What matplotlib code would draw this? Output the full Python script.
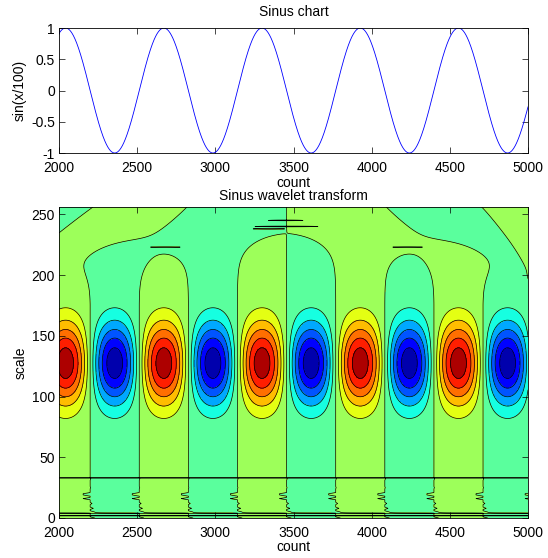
import numpy as np
import matplotlib
matplotlib.use('Agg')
import matplotlib.pyplot as plt

plt.rcParams['font.family'] = ['Liberation Sans', 'DejaVu Sans']
plt.rcParams['font.size'] = 10

# signal as written on the y label: sin(x/100) for x = 2000..5000
count = np.arange(2000, 5001)
signal = np.sin(count / 100.0)

x_ticks = [2000, 2500, 3000, 3500, 4000, 4500, 5000]
sin_ticks = [-1, -0.5, 0, 0.5, 1]
sin_labels = ['-1', '-0.5', '0', '0.5', '1']
scale_ticks = [0, 50, 100, 150, 200, 250]

# wavelet map
scales = np.arange(0, 257)
peak_scale = 127.5        # centre of the red / blue cells
peak_width = 24.4         # yellow edge near 82 and 173
n_bands = 12              # filled colour bands (jet)
top_level = 1.05          # peak cell value is ~0.95 of the top level

# large scale pattern (edge effects): phase lines fanning out from x=3456
cone_centre = 3456
cone_k = 51359.0
cone_s0 = 175.5
rise_centre = 225.0       # scale where it takes over, at the centre line
rise_slope = 0.011        # ... and lower towards the sides
rise_width = 9.0
# corner patches at the top: (x, scale) end points of their edges
corner_left = [(2000, 235), (2186, 256)]    # negative patch
corner_right = [(4725, 256), (5000, 206)]   # positive patch

# small scale artefacts: shift of the strip edges (in counts) per scale row
shift_rows = [0, 5, 8, 12, 14, 16, 17, 18, 19, 20, 21, 25, 32]
shift_vals = [-30, -28, -20, -12, 0, 45, 0, 0, 45, 45, 0, -3, -3]
flip_rows = [33, 4, 2]        # rows that come out as thin streaks
flip_gain = [-0.02, -0.3, -0.3]
# short streaks at large scales: (scale, from count, to count)
streaks = [(223, 2560, 2800), (223, 4110, 4350),
           (245, 3310, 3590), (240, 3200, 3710), (238, 3215, 3470)]

S, X = np.meshgrid(scales, count, indexing='ij')
envelope = np.exp(-(scales - peak_scale) ** 2 / (2 * peak_width ** 2))
shift = np.zeros(len(scales))
for r, v in zip(shift_rows, shift_vals):
    shift[r] = v
main = np.sin((X + shift[:, None]) / 100.0)

phase = np.pi * (X - cone_centre) * np.clip(S - cone_s0, 0, None) / cone_k
wide = np.sin(phase)
(xa, sa), (xb, sb) = corner_left
side_l = (S - sa) - (X - xa) * (sb - sa) / (xb - xa)
wide -= 2.0 / (1.0 + np.exp(-side_l / 1.5))
(xa, sa), (xb, sb) = corner_right
side_r = (S - sb) - (X - xb) * (sa - sb) / (xa - xb)
wide += 2.0 / (1.0 + np.exp(-side_r / 1.5))

rise = rise_centre - rise_slope * np.abs(X - cone_centre)
ratio = np.exp((S - rise) / rise_width)
Z = envelope[:, None] * (main + ratio * wide)
for r, g in zip(flip_rows, flip_gain):
    Z[r] = g * Z[r]
for r, x0, x1 in streaks:
    part = (count >= x0) & (count <= x1)
    bump = np.sin(np.pi * (count[part] - x0) / (x1 - x0)) ** 0.3
    Z[r, part] = Z[r, part] * (1 - 1.4 * bump)

levels = np.linspace(-top_level, top_level, n_bands + 1)

fig = plt.figure(figsize=(5.48, 5.58), dpi=100)
ax1 = fig.add_axes([0.1077, 0.7258, 0.8558, 0.2240])
ax2 = fig.add_axes([0.1077, 0.0717, 0.8558, 0.5573])

ax1.plot(count, signal, color='#0000ff', lw=0.6)
ax1.set_xlim(2000, 5000)
ax1.set_ylim(-1, 1)
ax1.set_xticks(x_ticks)
ax1.set_yticks(sin_ticks)
ax1.set_yticklabels(sin_labels)
ax1.set_title('Sinus chart', fontsize=10, pad=9)
ax1.set_xlabel('count', labelpad=1)
ax1.set_ylabel('sin(x/100)', labelpad=3)

ax2.contourf(count, scales, Z, levels=levels, cmap='jet')
ax2.contour(count, scales, Z, levels=levels, colors='k',
            linewidths=0.5, linestyles='solid')
ax2.set_xlim(2000, 5000)
ax2.set_ylim(0, 256)
ax2.set_xticks(x_ticks)
ax2.set_yticks(scale_ticks)
ax2.set_title('Sinus wavelet transform', fontsize=10, pad=5)
ax2.set_xlabel('count', labelpad=0)
ax2.set_ylabel('scale', labelpad=3)

for ax in (ax1, ax2):
    ax.tick_params(direction='in', top=True, right=True, length=4, width=0.5)
    ax.tick_params(axis='y', pad=3)
    ax.tick_params(axis='x', pad=5.5)
    for sp in ax.spines.values():
        sp.set_linewidth(0.6)

fig.savefig('out.png', dpi=100)
